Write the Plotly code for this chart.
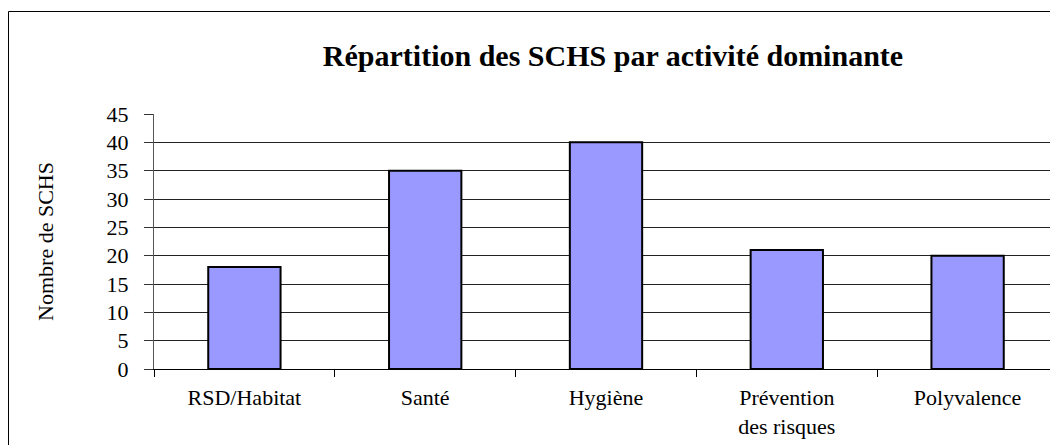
import plotly.graph_objects as go

categories = ["RSD/Habitat", "Santé", "Hygiène", "Prévention<br>des risques", "Polyvalence"]
values = [18, 35, 40, 21, 20]
y_ticks = [0, 5, 10, 15, 20, 25, 30, 35, 40, 45]

title_text = "Répartition des SCHS par activité dominante"
y_title = "Nombre de SCHS"

# page body adds an 8px offset; figure sized so its right/bottom edges meet the window
W, H = 1050, 437
L, R, T, B = 146, 0, 106, 76
pw, ph = W - L - R, H - T - B

fig = go.Figure()
fig.add_trace(go.Bar(
    x=categories, y=values, width=0.4,
    marker=dict(color="#9999FF", line=dict(color="black", width=2)),
    hoverinfo="x+y",
))

serif = "Liberation Serif, Times New Roman, serif"

fig.update_layout(
    width=W, height=H,
    margin=dict(l=L, r=R, t=T, b=B, autoexpand=False),
    paper_bgcolor="white", plot_bgcolor="white",
    showlegend=False,
    title=dict(text="<b>" + title_text + "</b>", x=605 / W, xanchor="center",
               y=1 - 47 / H, yanchor="middle", xref="container",
               font=dict(family=serif, size=30, color="black")),
    xaxis=dict(
        type="category", tickson="boundaries", ticks="outside", ticklen=7,
        tickcolor="black", showline=True, linecolor="black", linewidth=1,
        showgrid=False, tickfont=dict(family=serif, size=22, color="black"),
        ticklabelstandoff=9, range=[-0.5, 4.5], automargin=False,
    ),
    yaxis=dict(
        range=[0, 45], tickvals=y_ticks, ticks="outside", ticklen=9,
        tickcolor="#333", showline=True, linecolor="#555", linewidth=1,
        showgrid=True, gridcolor="#222", gridwidth=1, zeroline=False,
        tickfont=dict(family=serif, size=22, color="black"),
        ticklabelstandoff=11, automargin=False,
        title=dict(text=y_title, font=dict(family=serif, size=22, color="black"), standoff=46),
    ),
    shapes=[dict(type="rect", xref="paper", yref="paper",
                 x0=(0.5 - L) / pw, x1=1.02, y0=-0.5, y1=(H - B - 3.5) / ph,
                 line=dict(color="black", width=1), fillcolor="rgba(0,0,0,0)", layer="below")],
)

fig.write_html("out.html")
